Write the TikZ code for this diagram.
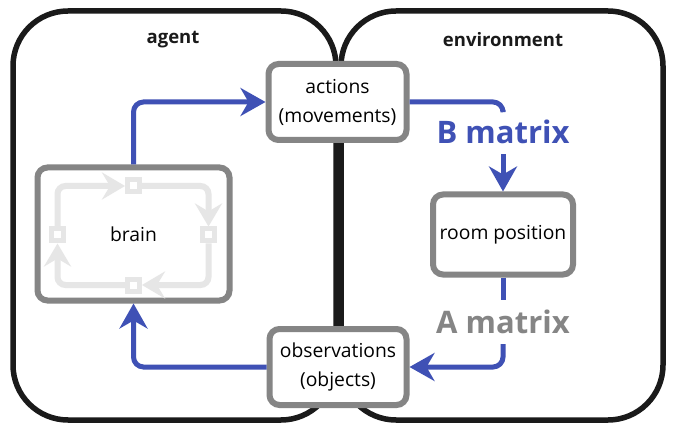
\documentclass[tikz,border=0pt]{standalone}
\usepackage{fontspec}
\setmainfont{Open Sans}
\usetikzlibrary{arrows.meta}
\definecolor{indigo}{HTML}{3F51B5}
\definecolor{midgray}{HTML}{858585}
\definecolor{palegray}{HTML}{E6E6E6}
\definecolor{nearblack}{HTML}{1A1A1A}

\begin{document}
\begin{tikzpicture}[x=1pt,y=-1pt,
  world/.style={draw=nearblack,line width=5.5pt,rounded corners=55pt,fill=white},
  box/.style={draw=midgray,line width=6pt,rounded corners=10pt,fill=white,
    align=center,font=\fontsize{19.3}{29}\selectfont},
  title/.style={font=\fontsize{18.5}{22}\selectfont\bfseries,text=nearblack},
  matlabel/.style={font=\fontsize{31}{33}\selectfont\bfseries,inner xsep=0pt,inner ysep=10pt},
  flow/.style={draw=indigo,line width=5pt,rounded corners=10pt},
  bluehead/.style={-{Stealth[length=25pt,width=28pt,inset=8pt]}},
  cycleflow/.style={draw=palegray,line width=6pt,rounded corners=8pt,
    -{Stealth[length=23pt,width=27pt,inset=8pt]}},
  knot/.style={draw=palegray,line width=5pt,fill=white,minimum size=12pt,inner sep=0pt}
  ]
  \useasboundingbox (0,0) rectangle (676,427);
  % \draw[gray!30,step=20] (0,0) grid (676,427);

  % the two worlds
  \draw[world] (13,11) rectangle (336,420);
  \draw[world] (341,11) rectangle (663,420);
  \node[title] (agentlbl) at (173,40) {agent};
  \node[title] (envlbl) at (503,40) {environment};

  \node[box,minimum width=138pt,minimum height=76pt] (actions) at (337.5,102) {actions\\(movements)};
  \node[box,minimum width=137pt,minimum height=76pt] (obs) at (338,367) {observations\\(objects)};
  \node[box,minimum width=140pt,minimum height=80pt] (room) at (503,234.5) {room position};
  \node[box,minimum width=192pt,minimum height=133pt] (brain) at (133.5,234) {brain};

  % inner cycle of the brain
  \foreach \name/\dx/\dy in {ktop/0/-48,kright/75/1,kbot/0/51,kleft/-76/1}
  {
    \node[knot] (\name) at ([shift={(\dx,\dy)}]brain.center) {};
  }
  \draw[cycleflow] (kleft) |- (ktop);
  \draw[cycleflow] (ktop) -| (kright);
  \draw[cycleflow] (kright) |- (kbot);
  \draw[cycleflow] (kbot) -| (kleft);

  \node[matlabel,text=indigo] (bmat) at (503,132) {B matrix};
  \node[matlabel,text=midgray] (amat) at (503,322) {A matrix};

  \draw[flow,bluehead] (brain) |- (actions);
  \draw[flow] (actions) -| (bmat);
  \draw[flow,bluehead] (bmat) -- (room);
  \draw[flow] (room) -- (amat);
  \draw[flow,bluehead] (amat) |- (obs);
  \draw[flow,bluehead] (obs) -| (brain);

\end{tikzpicture}
\end{document}
